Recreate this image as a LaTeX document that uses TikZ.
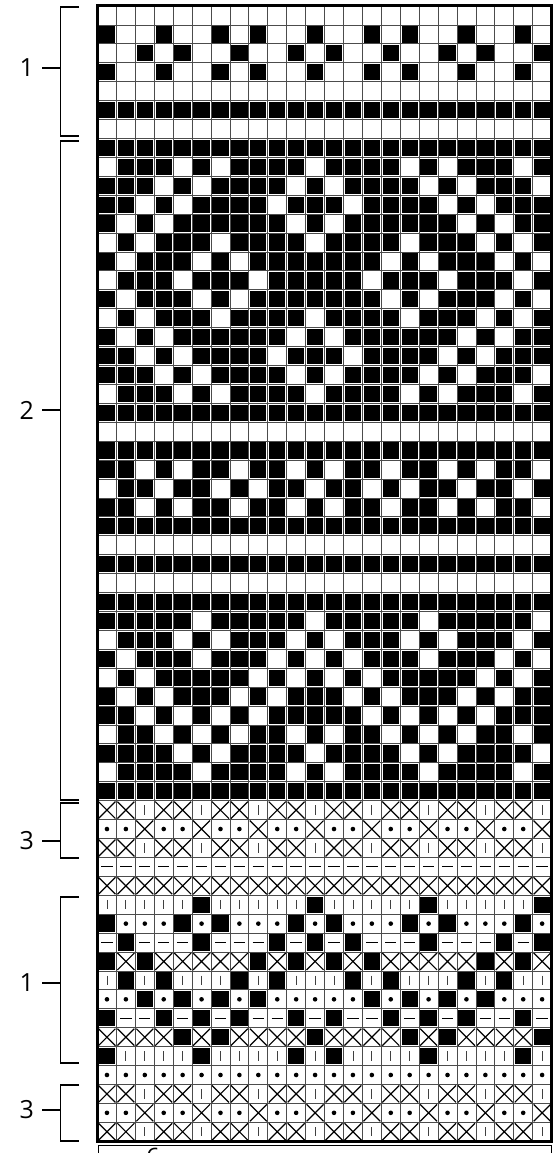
\documentclass[tikz,border=0pt]{standalone}
\usepackage{fontspec}
\setmainfont{Open Sans}
\def\gx{97.5}\def\gy{6}\def\cw{18.92}\def\ins{1.3}
\newcommand\sq[3]{\fill[#1] ({\gx+(#2)*\cw+\ins},{\gy+(#3)*\cw+\ins}) rectangle ++({\cw-2*\ins},{\cw-2*\ins});}
\newcommand\wfull[2]{\fill[white] ({\gx+(#1)*\cw},{\gy+(#2)*\cw}) rectangle ++({\cw},{\cw});}
\newcommand\brow[1]{\foreach \cx in {0,...,23}{\sq{black}{\cx}{#1}}}
\newcommand\prow[2]{\brow{#1}\foreach \cx in {#2}{\sq{white}{\cx}{#1}}}
\newcommand\bcells[2]{\foreach \cx in {#2}{\sq{black}{\cx}{#1}}}
\newcommand\symX[2]{\draw[symln] ({\gx+(#1)*\cw+1},{\gy+(#2)*\cw+1}) -- ++({\cw-2},{\cw-2}) ({\gx+(#1+1)*\cw-1},{\gy+(#2)*\cw+1}) -- ++({-\cw+2},{\cw-2});}
\newcommand\symV[2]{\draw[vln] ({\gx+(#1+0.5)*\cw},{\gy+(#2+0.25)*\cw}) -- ++(0,{0.5*\cw});}
\newcommand\symD[2]{\fill ({\gx+(#1+0.5)*\cw},{\gy+(#2+0.5)*\cw}) circle (2.3);}
\newcommand\symH[2]{\draw[symln] ({\gx+(#1+0.2)*\cw},{\gy+(#2+0.5)*\cw}) -- ++({0.6*\cw},0);}
\newcommand\symrow[3]{\foreach \cx in {0,...,23}{#1{\cx}{#2}}\foreach \cx in {#3}{\wfull{\cx}{#2}\sq{black}{\cx}{#2}}}
\newcommand\brak[4]{\draw[brk] (79,#1) -- (60.5,#1) -- (60.5,#2) -- (79,#2);
  \draw[brk] (42,#3) -- (60.5,#3);
  \node[lbl] at (34,#3) {#4};}
\begin{document}
\begin{tikzpicture}[x=1pt,y=-1pt,
  symln/.style={line width=1.2pt,black},
  vln/.style={line width=0.8pt,black!75},
  gridln/.style={line width=0.8pt,black!70},
  brk/.style={line width=1.3pt,black},
  lbl/.style={anchor=east,inner sep=0pt,font=\fontsize{25}{25}\selectfont}]
\useasboundingbox (0,0) rectangle (553,1153);
\fill[white] (0,0) rectangle (553,1153);
% top section
\bcells{1}{0,3,6,8,11,14,16,19,22}
\bcells{2}{2,4,7,10,12,15,18,20,23}
\bcells{3}{0,3,6,8,11,14,16,19,22}
\foreach \r in {5,7,21,23,27,29,31,41}{\brow{\r}}
% section 2
\prow{8}{0,4,6,11,16,18,22}
\prow{9}{3,5,10,12,17,19,23}
\prow{10}{2,4,9,13,18,20}
\prow{11}{1,3,10,12,19,21}
\prow{12}{0,2,6,11,16,20,22}
\prow{13}{1,5,7,15,17,21,23}
\prow{14}{0,4,8,14,18,22}
\prow{15}{1,5,7,15,17,21,23}
\prow{16}{0,2,6,11,16,20,22}
\prow{17}{1,3,10,12,19,21}
\prow{18}{2,4,9,13,18,20}
\prow{19}{3,5,10,12,17,19,23}
\prow{20}{0,4,6,11,16,18,22}
\prow{24}{2,4,7,10,12,15,18,20,23}
\prow{25}{0,3,6,8,11,14,16,19,22}
\prow{26}{2,4,7,10,12,15,18,20,23}
\prow{32}{5,11,17,23}
\prow{33}{0,4,6,10,12,16,18,22}
\prow{34}{1,5,9,11,13,17,21,23}
\prow{35}{0,2,8,10,12,14,20,22}
\prow{36}{1,3,7,9,13,15,19,21}
\prow{37}{2,4,6,8,14,16,18,20}
\prow{38}{0,3,5,7,10,12,15,17,19,22}
\prow{39}{4,6,11,16,18,23}
\prow{40}{0,5,10,12,17,22}
% symbol rows
\foreach \r in {42,44,57,59}{\foreach \cx in {0,3,...,21}{\symX{\cx}{\r}\symX{\cx+1}{\r}\symV{\cx+2}{\r}}}
\foreach \r in {43,58}{\foreach \cx in {0,3,...,21}{\symD{\cx}{\r}\symD{\cx+1}{\r}\symX{\cx+2}{\r}}}
\foreach \cx in {0,...,23}{\symH{\cx}{45}\symX{\cx}{46}\symD{\cx}{56}}
\symrow{\symV}{47}{5,11,17,23}
\symrow{\symD}{48}{0,4,6,10,12,16,18,22}
\symrow{\symH}{49}{1,5,9,11,13,17,21,23}
\symrow{\symX}{50}{0,2,8,10,12,14,20,22}
\symrow{\symV}{51}{1,3,7,9,13,15,19,21}
\symrow{\symD}{52}{2,4,6,8,14,16,18,20}
\symrow{\symH}{53}{0,3,5,7,10,12,15,17,19,22}
\symrow{\symX}{54}{4,6,11,16,18,23}
\symrow{\symV}{55}{0,5,10,12,17,22}
% grid
\foreach \i in {1,...,23}{\draw[gridln] ({\gx+\i*\cw},\gy) -- ++(0,{60*\cw});}
\foreach \i in {1,...,59}{\draw[gridln] (\gx,{\gy+\i*\cw}) -- ++({24*\cw},0);}
\draw[line width=3pt] (\gx,\gy) rectangle ++({24*\cw},{60*\cw});
% brackets
\brak{7}{136}{68}{1}
\brak{141}{800}{410}{2}
\brak{803}{858}{841}{3}
\brak{897}{1063}{983}{1}
\brak{1085}{1141}{1110}{3}
% bottom bracket
\draw[line width=1pt] (98.5,1160) -- (98.5,1145.5) -- (551,1145.5) -- (551,1160);
\node[anchor=north west,inner sep=0pt,font=\fontsize{24}{24}\selectfont] (bt) at (146,1148) {6};
\end{tikzpicture}
\end{document}
